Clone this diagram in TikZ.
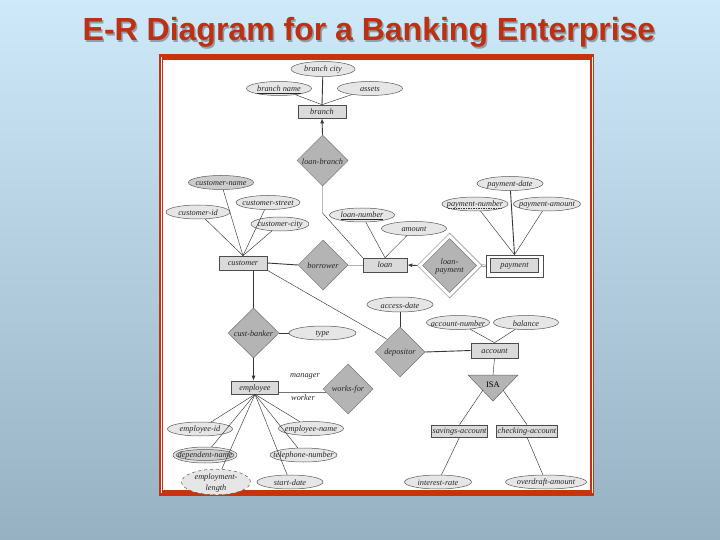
\documentclass[tikz,border=0pt]{standalone}
\usepackage{fontspec}
\setmainfont{Liberation Serif}
\newfontfamily\titlefont{Liberation Sans}
\usetikzlibrary{shapes.geometric,arrows.meta}
\definecolor{bgtop}{RGB}{206,234,250}
\definecolor{bgbot}{RGB}{150,178,194}
\definecolor{framered}{RGB}{198,52,12}
\definecolor{titlered}{RGB}{190,48,18}
\definecolor{attrfill}{RGB}{230,230,230}
\definecolor{attrdark}{RGB}{205,205,205}
\definecolor{relfill}{RGB}{180,180,180}
\definecolor{entfill}{RGB}{218,218,218}
\definecolor{lineC}{RGB}{55,55,55}
\newcommand\cz[1]{\makebox[0pt]{\raisebox{-0.9pt}[\height][\depth]{#1}}}
\tikzset{
 dg/.style={font=\itshape\fontsize{8.3}{9}\selectfont, text=black!85},
 attr/.style={dg, ellipse, draw=black!65, line width=0.5, fill=attrfill, inner sep=0pt, minimum width=64, minimum height=14},
 ent/.style={dg, rectangle, draw=black!70, line width=0.6, fill=entfill, inner sep=1pt, minimum width=48, minimum height=14, text height=6pt, text depth=0.5pt},
 rel/.style={dg, diamond, draw=black!55, line width=0.5, fill=relfill, inner sep=0pt, minimum width=50, minimum height=50},
 ln/.style={draw=lineC, line width=0.45},
 lnb/.style={draw=lineC, line width=0.9},
 tip/.style={-{Latex[length=5pt,width=4pt]}},
 ttl/.style={font=\titlefont\bfseries\fontsize{32}{36}\selectfont, anchor=base},
}
\begin{document}
\begin{tikzpicture}[x=1pt,y=-1pt]
\useasboundingbox (0,0) rectangle (720,540);
\shade[top color=bgtop, bottom color=bgbot] (0,0) rectangle (720,540);
% title
\node[ttl, text=black, opacity=0.3] (titleshadow) at (370.5,42.5) {E-R Diagram for a Banking Enterprise};
\node[ttl, text=titlered] (title) at (369,41) {E-R Diagram for a Banking Enterprise};
% frame
\fill[framered] (159,54) rectangle (594,496);
\fill[white] (163,60) rectangle (590,490);
\draw[white, line width=0.8] (161,57) -- (161,493);
\draw[white, line width=0.8] (592,57) -- (592,493);
% branch
\node[attr, minimum height=15] (bcity) at (323,69) {\cz{branch city}};
\node[attr, minimum width=65] (bname) at (279,88.5) {\cz{\underline{branch name}}};
\node[attr, minimum width=65] (assets) at (370,88.5) {\cz{assets}};
\node[ent, minimum height=13] (branch) at (322,111.5) {branch};
\node[rel, minimum width=51, minimum height=51] (loanbranch) at (322.5,160.5) {\cz{loan-branch}};
% customer
\node[attr, minimum width=65, fill=attrdark] (custname) at (221,182.5) {\cz{customer-name}};
\node[attr] (custid) at (198,212) {\cz{customer-id}};
\node[attr] (custstreet) at (268,202.5) {\cz{customer-street}};
\node[attr, minimum width=58] (custcity) at (280,224) {\cz{customer-city}};
\node[ent] (customer) at (243,263) {customer};
\node[rel] (borrower) at (323,265) {\cz{borrower}};
% loan
\node[attr, minimum width=65] (loannum) at (362,215) {\cz{\underline{loan-number}}};
\node[attr, minimum width=65] (amount) at (414,228.5) {\cz{amount}};
\node[ent, minimum width=44] (loan) at (385,265) {loan};
\node[rel, fill=white, draw=black!50, minimum width=65, minimum height=65] (loanpay) at (449.5,265.5) {};
\node[rel, minimum width=54, minimum height=54] (loanpayin) at (449.5,265.5) {\cz{\shortstack{loan-\\payment}}};
% payment
\node[attr, minimum width=66] (paydate) at (510,183.5) {\cz{payment-date}};
\node[attr, minimum width=66] (paynum) at (475,204) {\cz{payment-number}};
\draw[lineC, line width=0.4, dash pattern=on 1.5pt off 1pt] ([xshift=-27pt, yshift=-4pt]paynum.center) -- ([xshift=27pt, yshift=-4pt]paynum.center);
\node[attr, minimum width=67] (payamt) at (547,204) {\cz{payment-amount}};
\node[ent, fill=white, minimum width=57, minimum height=22] (payment) at (514.5,266) {};
\node[ent, minimum width=48, minimum height=14] (paymentin) at (514.5,265) {payment};
% account
\node[attr, minimum width=66, minimum height=15] (accessdate) at (400,304.5) {\cz{access-date}};
\node[attr, minimum width=63] (accnum) at (458,322.5) {\cz{account-number}};
\node[attr, minimum width=65] (balance) at (526,322.5) {\cz{balance}};
\node[rel] (depositor) at (400,352) {\cz{depositor}};
\node[ent, minimum width=47, minimum height=15] (account) at (494.5,350.5) {account};
\coordinate (isaA) at (468,375);
\coordinate (isaB) at (518,375);
\coordinate (isaC) at (493,401);
\coordinate (isatop) at (493,375);
\coordinate (isaSL) at (483,390);
\coordinate (isaSR) at (503,390);
\draw[draw=black!60, fill=relfill, line width=0.5] (isaA) -- (isaB) -- (isaC) -- cycle;
\node[font=\fontsize{8.5}{9}\selectfont] (isa) at (493,384.5) {ISA};
\node[ent, minimum width=55, minimum height=12] (savings) at (459.5,431) {savings-account};
\node[ent, minimum width=60, minimum height=12] (checking) at (527,431) {checking-account};
\node[attr, minimum width=67] (intrate) at (438,482) {\cz{interest-rate}};
\node[attr, minimum width=81] (overdraft) at (546,482) {\cz{overdraft-amount}};
% employee
\node[rel, minimum width=51] (custbanker) at (253.5,333) {\cz{cust-banker}};
\node[attr, minimum width=67] (type) at (322.5,333) {\cz{type}};
\node[ent, minimum width=47, minimum height=13] (employee) at (255,387.5) {employee};
\node[rel] (worksfor) at (348,389) {\cz{works-for}};
\node[dg] (manager) at (305,376) {manager};
\node[dg] (worker) at (303,398) {worker};
\node[attr, minimum width=65] (empid) at (200,429) {\cz{employee-id}};
\node[attr, minimum width=65] (empname) at (311,428.5) {\cz{employee-name}};
\node[attr, minimum width=64, minimum height=16] (depnameout) at (205,455) {};
\node[attr, fill=attrdark, minimum width=58, minimum height=11] (depname) at (205,455) {\cz{dependent-name}};
\node[attr, minimum width=67] (telnum) at (303.5,455) {\cz{telephone-number}};
\node[attr, dashed, minimum width=69, minimum height=15] (emplen) at (216,482) {\cz{\shortstack{employment-\\length}}};
\node[attr, minimum width=66] (startdate) at (290,482) {\cz{start-date}};
% connectors
\draw[lnb] (bcity) -- (branch.north);
\draw[ln] (bname) -- (branch.north);
\draw[ln] (assets) -- (branch.north);
\draw[lnb, tip] (loanbranch.north) -- (branch.south);
\coordinate (lbk) at (322.5,213);
\draw[ln] (loanbranch.south) -- (lbk) -- (loan.north west);
\draw[ln] (custname) -- (customer.north);
\draw[ln] (custid) -- (customer.north);
\draw[ln] (custstreet) -- (customer.north);
\draw[ln] (custcity) -- (customer.north);
\draw[lnb] (customer.east) -- (borrower.west);
\draw[ln, draw=black!30] (borrower.east) -- (loan.west);
\draw[ln] (loannum) -- (loan.north);
\draw[ln] (amount) -- (loan.north);
\draw[lnb, tip] (loanpay.west) -- (loan.east);
\draw[draw=lineC, line width=0.4, double=white, double distance=1.3pt] (loanpay.east) -- (payment.west);
\draw[lnb] (paydate) -- (payment.north);
\draw[ln] (paynum) -- (payment.north);
\draw[ln] (payamt) -- (payment.north);
\draw[ln] (customer.south east) -- (depositor.north west);
\draw[lnb] (accessdate) -- (depositor.north);
\draw[lnb] (depositor.east) -- (account.west);
\draw[ln] (accnum) -- (account.north);
\draw[ln] (balance) -- (account.north);
\draw[ln] (account.south) -- (isatop);
\draw[ln] (isaSL) -- (savings.north);
\draw[ln] (isaSR) -- (checking.north);
\draw[ln] (savings.south) -- (intrate);
\draw[ln] (checking.south) -- (overdraft);
\draw[lnb] (custbanker.north) -- (custbanker.north |- customer.south);
\draw[lnb] (custbanker.east) -- (type.west);
\draw[lnb, tip] (custbanker.south) -- (custbanker.south |- employee.north);
\draw[lnb, draw=black!55] ([yshift=-5pt]employee.east) -- ([xshift=3.5pt, yshift=-3.5pt]worksfor.west);
\draw[ln] (employee.south) -- (empid);
\draw[ln] (employee.south) -- (empname);
\draw[ln] (employee.south) -- (depnameout);
\draw[ln] (employee.south) -- (telnum);
\draw[ln] (employee.south) -- (emplen);
\draw[ln] (employee.south) -- (startdate);
\end{tikzpicture}
\end{document}
